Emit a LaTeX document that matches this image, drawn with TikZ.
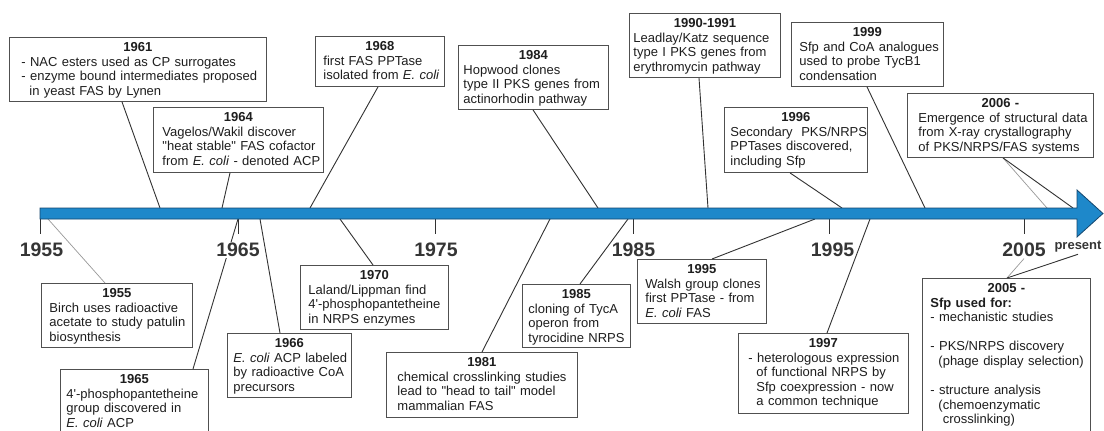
\documentclass[tikz,border=0pt]{standalone}
\usepackage{fontspec}
\setmainfont{Liberation Sans}
\newcommand\ttl[1]{\makebox[\linewidth][c]{\bfseries #1}}
\newcommand\bl[1]{\mbox{#1}}
\newcommand\ind{\hspace*{8pt}}
\newcommand\dq{\textquotedbl}
\newcommand\sq{\textquotesingle}
\definecolor{barblue}{RGB}{30,136,202}
\definecolor{baredge}{RGB}{20,70,110}
\definecolor{txt}{RGB}{30,30,30}
\definecolor{boxline}{RGB}{80,80,80}
\definecolor{conn}{RGB}{50,50,50}
\begin{document}
\begin{tikzpicture}[x=1pt,y=-1pt,
  evbox/.style={draw=boxline, line width=0.9pt, fill=white, text=txt, anchor=north west,
     align=left, inner ysep=4.8pt, text height=9.3pt,
     font=\fontsize{13}{14.6}\selectfont},
  conline/.style={draw=conn, line width=0.9pt},
  lightline/.style={draw=gray!80, line width=0.7pt},
  yearlab/.style={text=txt!90, font=\fontsize{19.5}{20}\selectfont\bfseries, inner sep=1.5pt},
  tick/.style={draw=conn, line width=0.9pt}
]
\useasboundingbox (0,0) rectangle (1104,431);
\fill[white] (0,0) rectangle (1104,431);
\clip (0,0) rectangle (1104,431);

% bar points
\coordinate (p1955) at (48,219);
\coordinate (p1961) at (160,208);
\coordinate (p1964) at (222,208);
\coordinate (p1965) at (238,219);
\coordinate (p1966) at (260,219);
\coordinate (p1968) at (310,208);
\coordinate (p1970) at (340,219);
\coordinate (p1981) at (550,219);
\coordinate (p1984) at (598,208);
\coordinate (p1985) at (628,219);
\coordinate (p1990) at (708,208);
\coordinate (p1995) at (815,219);
\coordinate (p1996) at (842,208);
\coordinate (p1997) at (870,219);
\coordinate (p1999) at (925,208);
\coordinate (p2006a) at (1047,208);
\coordinate (p2006b) at (1073,208);

% tick coordinates
\coordinate (k1955) at (40,219);
\coordinate (k1965) at (238,219);
\coordinate (k1975) at (435,219);
\coordinate (k1985) at (633,219);
\coordinate (k1995) at (829,219);
\coordinate (k2005) at (1024,219);

% boxes above
\node[evbox, text width=233pt, inner xsep=12pt, text depth=45.1pt] (b1961) at (9,37)
 {\ttl{1961}\\\bl{- NAC esters used as CP surrogates}\\\bl{- enzyme bound intermediates proposed}\\\bl{\ind in yeast FAS by Lynen}};
\node[evbox, text width=152pt, inner xsep=9pt, text depth=46.1pt] (b1964) at (153,107)
 {\ttl{1964}\\\bl{Vagelos/Wakil discover}\\\bl{\dq heat stable\dq\ FAS cofactor}\\\bl{from \textit{E. coli} - denoted ACP}};
\node[evbox, text width=113pt, inner xsep=8pt, text depth=31.1pt] (b1968) at (315,36)
 {\ttl{1968}\\\bl{first FAS PPTase}\\\bl{isolated from \textit{E. coli}}};
\node[evbox, text width=140pt, inner xsep=5pt, text depth=45.1pt] (b1984) at (458,45)
 {\ttl{1984}\\\bl{Hopwood clones}\\\bl{type II PKS genes from}\\\bl{actinorhodin pathway}};
\node[evbox, text width=143pt, inner xsep=4pt, text depth=45.1pt] (b1990) at (629,13)
 {\ttl{1990-1991}\\\bl{Leadlay/Katz sequence}\\\bl{type I PKS genes from}\\\bl{erythromycin pathway}};
\node[evbox, text width=131pt, inner xsep=6pt, text depth=46.1pt] (b1996) at (724,107)
 {\ttl{1996}\\\bl{Secondary\ \ PKS/NRPS}\\\bl{PPTases discovered,}\\\bl{including Sfp}};
\node[evbox, text width=136pt, inner xsep=8pt, text depth=45.1pt] (b1999) at (791,22)
 {\ttl{1999}\\\bl{Sfp and CoA analogues}\\\bl{used to probe TycB1}\\\bl{condensation}};
\node[evbox, text width=164pt, inner xsep=11pt, text depth=45.1pt] (b2006) at (907,93)
 {\ttl{2006 -}\\\bl{Emergence of structural data}\\\bl{from X-ray crystallography}\\\bl{of PKS/NRPS/FAS systems}};

% boxes below
\node[evbox, text width=135pt, inner xsep=8pt, text depth=45.1pt] (b1955) at (41,283)
 {\ttl{1955}\\\bl{Birch uses radioactive}\\\bl{acetate to study patulin}\\\bl{biosynthesis}};
\node[evbox, text width=136pt, inner xsep=6pt, text depth=46.1pt] (b1965) at (60,369)
 {\ttl{1965}\\\bl{4\sq-phosphopantetheine}\\\bl{group discovered in}\\\bl{\textit{E. coli} ACP}};
\node[evbox, text width=112pt, inner xsep=6pt, text depth=45.1pt] (b1966) at (227,333)
 {\ttl{1966}\\\bl{\textit{E. coli} ACP labeled}\\\bl{by radioactive CoA}\\\bl{precursors}};
\node[evbox, text width=132pt, inner xsep=8pt, text depth=45.1pt] (b1970) at (300,265)
 {\ttl{1970}\\\bl{Laland/Lippman find}\\\bl{4\sq-phosphopantetheine}\\\bl{in NRPS enzymes}};
\node[evbox, text width=169pt, inner xsep=11pt, text depth=46.1pt] (b1981) at (386,352)
 {\ttl{1981}\\\bl{chemical crosslinking studies}\\\bl{lead to \dq head to tail\dq\ model}\\\bl{mammalian FAS}};
\node[evbox, text width=96pt, inner xsep=6pt, text depth=44.1pt] (b1985) at (522,284)
 {\ttl{1985}\\\bl{cloning of TycA}\\\bl{operon from}\\\bl{tyrocidine NRPS}};
\node[evbox, text width=113pt, inner xsep=8pt, text depth=45.1pt] (b1995) at (637,259)
 {\ttl{1995}\\\bl{Walsh group clones}\\\bl{first PPTase - from}\\\bl{\textit{E. coli} FAS}};
\node[evbox, text width=150pt, inner xsep=10pt, text depth=61.1pt] (b1997) at (738,333)
 {\ttl{1997}\\\bl{- heterologous expression}\\\bl{\ind of functional NRPS by}\\\bl{\ind Sfp coexpression - now}\\\bl{\ind a common technique}};
\node[evbox, text width=152pt, inner xsep=8pt, text depth=141.1pt] (b2005) at (922,278)
 {\ttl{2005 -}\\\bl{\bfseries Sfp used for:}\\\bl{- mechanistic studies}\\[14.6pt]\bl{- PKS/NRPS discovery}\\\bl{\ind(phage display selection)}\\[14.6pt]\bl{- structure analysis}\\\bl{\ind(chemoenzymatic}\\\bl{\ind\ crosslinking)}};

% connectors
\draw[conline] ([xshift=113pt]b1961.south west) -- (p1961);
\draw[conline] ([xshift=77pt]b1964.south west) -- (p1964);
\draw[conline] ([xshift=63pt]b1968.south west) -- (p1968);
\draw[conline] ([xshift=75pt]b1984.south west) -- (p1984);
\draw[conline] ([xshift=70pt]b1990.south west) -- (p1990);
\draw[conline] ([xshift=66pt]b1996.south west) -- (p1996);
\draw[conline] ([xshift=76pt]b1999.south west) -- (p1999);
\draw[lightline] ([xshift=96pt]b2006.south west) -- (p2006a);
\draw[conline] ([xshift=96pt]b2006.south west) -- (p2006b);

\draw[lightline] (p1955) -- ([xshift=64pt]b1955.north west);
\draw[conline] ([xshift=133pt]b1965.north west) -- (p1965);
\draw[conline] ([xshift=53pt]b1966.north west) -- (p1966);
\draw[conline] (p1970) -- ([xshift=73pt]b1970.north west);
\draw[conline] ([xshift=96pt]b1981.north west) -- (p1981);
\draw[conline] ([xshift=58pt]b1985.north west) -- (p1985);
\draw[conline] ([xshift=75pt]b1995.north west) -- (p1995);
\draw[conline] ([xshift=89pt]b1997.north west) -- (p1997);

% ticks
\foreach \k in {k1955,k1965,k1975,k1985,k1995,k2005}
  \draw[tick] (\k) -- ++(0,15);

% year labels
\node[yearlab] (y1955) at (41.5,250) {1955};
\node[yearlab, fill=white] (y1965) at (238,250) {1965};
\node[yearlab] (y1975) at (436,250) {1975};
\node[yearlab] (y1985) at (633.5,250) {1985};
\node[yearlab] (y1995) at (832.5,250) {1995};
\node[yearlab] (y2005) at (1024,250) {2005};
\node[text=txt!90, font=\fontsize{13}{14}\selectfont\bfseries, inner sep=1.5pt] (ypresent) at (1078,247) {present};

\draw[lightline] ([xshift=85pt]b2005.north west) -- (y2005.south);
\draw[conline] ([xshift=85pt]b2005.north west) -- (ypresent.south);

% timeline bar
\path[fill=barblue, draw=baredge, line width=0.8pt]
  (40,208) -- (1077,208) -- (1077,190) -- (1103,213.5) -- (1077,237) -- (1077,219) -- (40,219) -- cycle;
\end{tikzpicture}
\end{document}
